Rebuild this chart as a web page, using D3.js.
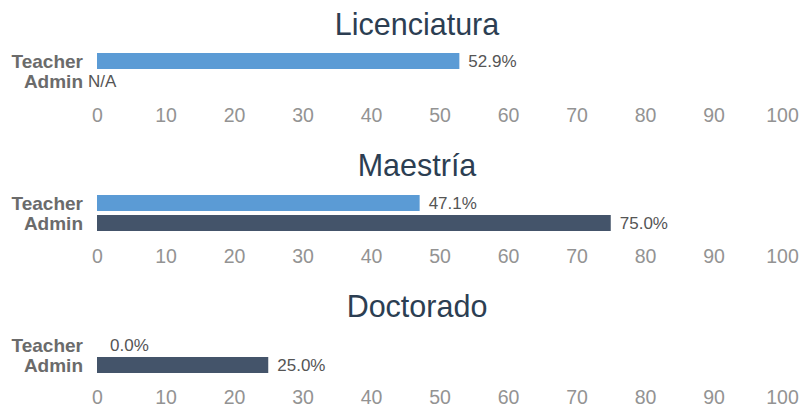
<!DOCTYPE html>
<html lang="en">
<head>
  <meta charset="UTF-8">
  <title>Degree chart</title>
  <script src="https://cdn.jsdelivr.net/npm/d3@7"></script>
  <style>
    body { margin: 0; background: #fff; }
    text { font-family: "Liberation Sans", Arial, sans-serif; }
    .panel-title { font-size: 30.5px; fill: #2c3e52; text-anchor: middle; }
    .row-label { font-size: 19px; font-weight: bold; fill: #6b6b6b; text-anchor: end; }
    .val-label { font-size: 17px; fill: #555; }
    .axis-tick text { font-size: 19.5px; fill: #939393; }
  </style>
</head>
<body>
  <script>
    // data
    var panels = ["Licenciatura", "Maestría", "Doctorado"];
    var roles = ["Teacher", "Admin"];
    var teacherVals = [52.9, 47.1, 0.0];
    var adminVals = [null, 75.0, 25.0];   // null = N/A
    var tickVals = [0, 10, 20, 30, 40, 50, 60, 70, 80, 90, 100];

    var colors = { Teacher: "#5b9bd5", Admin: "#44546a" };

    var svg = d3.select("body").append("svg")
      .attr("width", 804)
      .attr("height", 409);

    // shared x scale
    let scaleX = d3.scaleLinear()
      .domain([0, 100])
      .range([97, 782]);

    panels.forEach(function(name, i) {
      let y0 = i * 141;
      let g = svg.append("g").attr("transform", "translate(0," + y0 + ")");

      let rows = [
        { role: "Teacher", value: teacherVals[i] },
        { role: "Admin", value: adminVals[i] }
      ];

      let scaleY = d3.scaleBand()
        .domain(roles)
        .range([51 + i, 91 + i])
        .paddingInner(0.2)
        .paddingOuter(0.1);

      // title
      g.append("text")
        .attr("class", "panel-title")
        .attr("x", 417)
        .attr("y", 35)
        .text(name);

      // row labels
      g.selectAll(".row-label")
        .data(rows)
        .enter()
        .append("text")
        .attr("class", "row-label")
        .attr("x", 83)
        .attr("y", d => scaleY(d.role) + scaleY.bandwidth() / 2)
        .attr("dy", "0.36em")
        .text(d => d.role);

      // bars
      g.selectAll(".bar")
        .data(rows.filter(d => d.value !== null))
        .enter()
        .append("rect")
        .attr("class", "bar")
        .attr("x", scaleX(0))
        .attr("y", d => scaleY(d.role))
        .attr("width", d => scaleX(d.value) - scaleX(0))
        .attr("height", scaleY.bandwidth())
        .attr("fill", d => colors[d.role]);

      // value labels
      g.selectAll(".val-label")
        .data(rows)
        .enter()
        .append("text")
        .attr("class", "val-label")
        .attr("x", d => d.value === null ? scaleX(0) - 9 : scaleX(d.value) + (d.value === 0 ? 13 : 9))
        .attr("y", d => scaleY(d.role) + scaleY.bandwidth() / 2)
        .attr("dy", "0.36em")
        .text(d => d.value === null ? "N/A" : d.value.toFixed(1) + "%");

      // axis
      let axisX = d3.axisBottom(scaleX)
        .tickValues(tickVals)
        .tickSize(0)
        .tickPadding(0);

      let ax = g.append("g")
        .attr("class", "axis-tick")
        .attr("transform", "translate(0,108)")
        .call(axisX);
      ax.select(".domain").remove();
      ax.selectAll("text").attr("font-family", null).attr("font-size", null);
    });
  </script>
</body>
</html>
